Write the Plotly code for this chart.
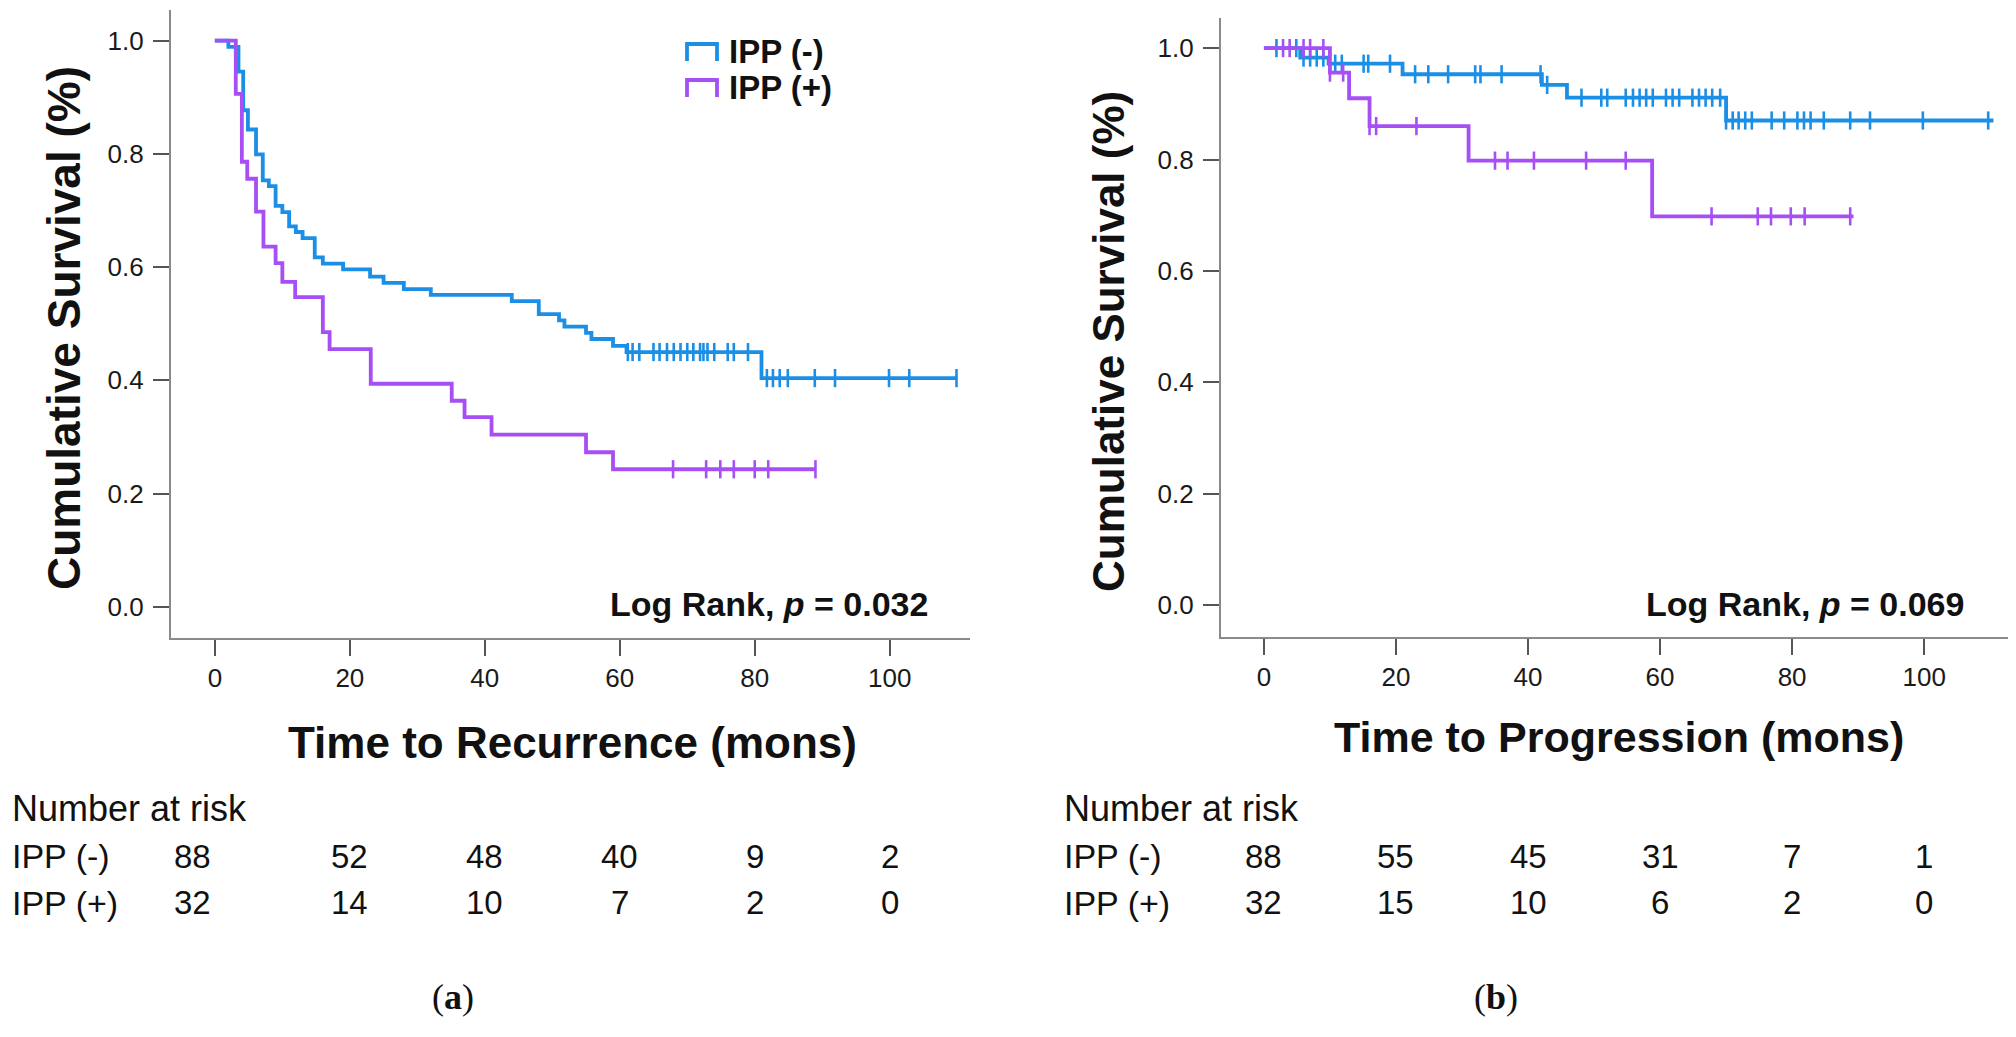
import plotly.graph_objects as go

W, H = 2016, 1037

# ---------------- data ----------------
# (a) Time to recurrence
ttr_neg_t = [0, 2.0, 3.5, 4.2, 4.9, 6.1, 7.1, 8.0, 9.0, 10.0, 11.0, 12.0, 13.0, 14.8, 16.0,
             19.0, 23.0, 25.0, 28.0, 32.0, 44.0, 48.0, 51.0, 51.8, 55.0, 55.8, 59.0, 61.0, 81.0]
ttr_neg_s = [1.0, 0.989, 0.945, 0.877, 0.843, 0.799, 0.753, 0.743, 0.708, 0.697, 0.672, 0.662,
             0.651, 0.617, 0.606, 0.596, 0.583, 0.572, 0.561, 0.551, 0.540, 0.517, 0.506, 0.495,
             0.484, 0.473, 0.461, 0.450, 0.404]
ttr_neg_end = 110.0
ttr_neg_cens = [61.2, 61.9, 62.9, 65.0, 65.9, 67.0, 68.0, 69.0, 70.0, 70.9, 71.9, 72.4, 73.0,
                74.0, 76.0, 76.9, 79.0, 81.8, 82.7, 83.7, 84.9, 88.9, 91.9, 99.9, 102.9, 109.9]

ttr_pos_t = [0, 3.1, 4.0, 4.8, 6.1, 7.2, 9.0, 10.0, 11.9, 16.0, 17.0, 23.1, 35.1, 37.0, 41.0, 55.0, 59.0]
ttr_pos_s = [1.0, 0.906, 0.786, 0.756, 0.698, 0.636, 0.607, 0.574, 0.547, 0.485, 0.455, 0.394,
             0.364, 0.335, 0.304, 0.273, 0.243]
ttr_pos_end = 89.0
ttr_pos_cens = [67.9, 72.8, 74.9, 76.9, 80.0, 82.0, 89.0]

# (b) Time to progression
ttp_neg_t = [0, 5.5, 9.8, 21.0, 42.1, 45.9, 70.0]
ttp_neg_s = [1.0, 0.983, 0.972, 0.953, 0.934, 0.911, 0.870]
ttp_neg_end = 110.5
ttp_neg_cens = [1.9, 4.9, 6.0, 7.0, 8.0, 9.0, 10.8, 11.8, 15.1, 15.8, 19.1, 22.9, 24.9, 27.9,
                32.0, 32.8, 36.0, 41.9, 42.9, 48.1, 51.1, 52.0, 54.8, 55.9, 56.9, 57.9, 58.9,
                60.9, 61.9, 62.9, 64.9, 65.9, 66.9, 67.9, 69.1, 70.0, 71.0, 71.9, 72.9, 73.9,
                76.9, 78.8, 80.8, 81.8, 82.8, 84.8, 88.8, 91.8, 99.8, 109.7]

ttp_pos_t = [0, 10.0, 12.9, 16.0, 31.0, 58.8]
ttp_pos_s = [1.0, 0.956, 0.910, 0.860, 0.798, 0.698]
ttp_pos_end = 89.3
ttp_pos_cens = [2.9, 3.9, 6.0, 7.0, 9.0, 10.0, 12.0, 16.0, 17.0, 23.1, 35.0, 36.9, 40.9, 48.8,
                54.8, 67.8, 74.8, 76.8, 79.8, 81.9, 88.8]

# Number at risk tables
risk_times = [0, 20, 40, 60, 80, 100]
risk_a_neg = [88, 52, 48, 40, 9, 2]
risk_a_pos = [32, 14, 10, 7, 2, 0]
risk_b_neg = [88, 55, 45, 31, 7, 1]
risk_b_pos = [32, 15, 10, 6, 2, 0]

group_labels = ["IPP (-)", "IPP (+)"]
x_ticks = [0, 20, 40, 60, 80, 100]
y_ticks = [0.0, 0.2, 0.4, 0.6, 0.8, 1.0]

BLUE = "#1b8fe6"
PURPLE = "#a64ff5"
FONT = "Liberation Sans, Arial, sans-serif"
SERIF = "Liberation Serif, Times New Roman, serif"


def surv_at(ts, ss, t):
    v = ss[0]
    for ti, si in zip(ts, ss):
        if ti <= t:
            v = si
    return v


fig = go.Figure()


def add_curve(ts, ss, end, cens, color, xa, ya, name):
    xs = list(ts) + [end]
    ys = list(ss) + [ss[-1]]
    fig.add_trace(go.Scatter(x=xs, y=ys, mode="lines", line=dict(color=color, width=3.8, shape="hv"),
                             xaxis=xa, yaxis=ya, name=name, showlegend=False, hoverinfo="skip"))
    fig.add_trace(go.Scatter(x=cens, y=[surv_at(ts, ss, c) for c in cens], mode="markers",
                             marker=dict(symbol="line-ns", size=13, line=dict(color=color, width=2.6)),
                             xaxis=xa, yaxis=ya, showlegend=False, hoverinfo="skip"))


add_curve(ttr_neg_t, ttr_neg_s, ttr_neg_end, ttr_neg_cens, BLUE, "x", "y", group_labels[0])
add_curve(ttr_pos_t, ttr_pos_s, ttr_pos_end, ttr_pos_cens, PURPLE, "x", "y", group_labels[1])
add_curve(ttp_neg_t, ttp_neg_s, ttp_neg_end, ttp_neg_cens, BLUE, "x2", "y2", group_labels[0])
add_curve(ttp_pos_t, ttp_pos_s, ttp_pos_end, ttp_pos_cens, PURPLE, "x2", "y2", group_labels[1])


def px_x(p):
    return p / W


def px_y(p):
    return (H - p) / H


axis_common = dict(showline=True, linecolor="#8a8a8a", linewidth=2.2, ticks="outside",
                   ticklen=16, tickwidth=2, tickcolor="#555555", showgrid=False, zeroline=False,
                   tickfont=dict(family=FONT, size=26, color="#1a1a1a"), fixedrange=True)

fig.update_layout(
    width=W, height=H, autosize=False,
    margin=dict(l=0, r=0, t=0, b=0),
    paper_bgcolor="white", plot_bgcolor="white",
    showlegend=False,
    xaxis=dict(domain=[px_x(171), px_x(970)], range=[-6.5, 111.9], tickvals=x_ticks,
               anchor="y", **axis_common),
    yaxis=dict(domain=[px_y(638), px_y(10)], range=[-0.055, 1.054], tickvals=y_ticks,
               tickformat=".1f", anchor="x", ticklabelstandoff=4, **axis_common),
    xaxis2=dict(domain=[px_x(1221), px_x(2008)], range=[-6.5, 112.7], tickvals=x_ticks,
                anchor="y2", **axis_common),
    yaxis2=dict(domain=[px_y(637), px_y(18)], range=[-0.057, 1.054], tickvals=y_ticks,
                tickformat=".1f", anchor="x2", ticklabelstandoff=4, **axis_common),
)

ann = []


def text_at(text, px, py, size, family=FONT, xanchor="center", angle=0, xref="paper", x=None, xshift=0):
    ann.append(dict(text=text, x=(px_x(px) if x is None else x), y=px_y(py), xref=xref, yref="paper",
                    xanchor=xanchor, yanchor="middle", textangle=angle, xshift=xshift,
                    showarrow=False, font=dict(family=family, size=size, color="#111111")))


# axis titles
text_at("<b>Cumulative Survival (%)</b>", 64, 328, 46, angle=-90)
text_at("<b>Time to Recurrence (mons)</b>", 572, 742, 44)
text_at("<b>Cumulative Survival (%)</b>", 1108, 342, 44, angle=-90)
text_at("<b>Time to Progression (mons)</b>", 1619, 737, 43)
# log rank
text_at("<b>Log Rank, <i>p</i> = 0.032</b>", 930, 604, 34, xanchor="right")
text_at("<b>Log Rank, <i>p</i> = 0.069</b>", 1966, 604, 34, xanchor="right")
# legend texts
text_at("<b>IPP (-)</b>", 727, 52, 33, xanchor="left")
text_at("<b>IPP (+)</b>", 727, 88, 33, xanchor="left")

# number at risk tables
for (xa, lx, rneg, rpos, shift0) in [("x", 10, risk_a_neg, risk_a_pos, -22),
                                      ("x2", 1062, risk_b_neg, risk_b_pos, 0)]:
    text_at("Number at risk", lx, 808, 36, xanchor="left")
    text_at(group_labels[0], lx, 856, 34, xanchor="left")
    text_at(group_labels[1], lx, 903, 34, xanchor="left")
    for i, t in enumerate(risk_times):
        xs = shift0 if i == 0 else 0
        text_at(str(rneg[i]), 0, 856, 33, xref=xa, x=t, xshift=xs)
        text_at(str(rpos[i]), 0, 903, 33, xref=xa, x=t, xshift=xs)

# captions
text_at("(<b>a</b>)", 453, 997, 36, family=SERIF)
text_at("(<b>b</b>)", 1496, 997, 36, family=SERIF)

fig.update_layout(annotations=ann)

# legend symbols (step shapes)
shapes = []
for yc, col in [(52, BLUE), (88, PURPLE)]:
    x0, x1 = px_x(687), px_x(717)
    yb, yt = px_y(yc + 9), px_y(yc - 8)
    path = f"M {x0},{yb} L {x0},{yt} L {x1},{yt} L {x1},{yb}"
    shapes.append(dict(type="path", path=path, xref="paper", yref="paper",
                       line=dict(color=col, width=3.8)))
fig.update_layout(shapes=shapes)

fig.write_html("out.html", config={"displayModeBar": False},
               post_script="document.body.style.margin='0px';document.body.style.overflow='hidden';")
